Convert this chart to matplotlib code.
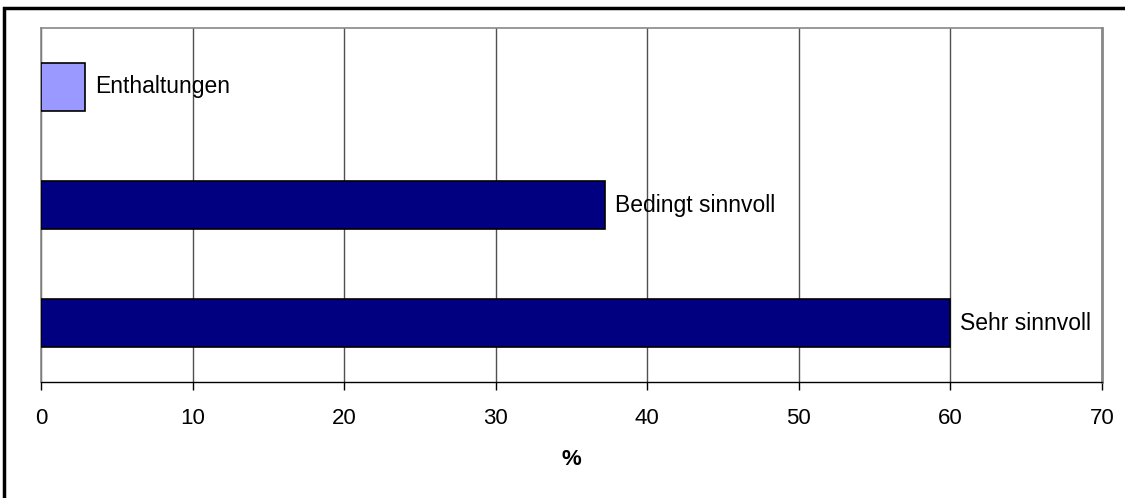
import matplotlib.pyplot as plt
from matplotlib.patches import Rectangle

plt.rcParams["font.family"] = ["Liberation Sans", "DejaVu Sans"]

# values in percent, bottom to top
categories = ["Sehr sinnvoll", "Bedingt sinnvoll", "Enthaltungen"]
values = [60.0, 37.2, 2.9]
bar_colors = ["#000080", "#000080", "#9999FF"]
x_ticks = [0, 10, 20, 30, 40, 50, 60, 70]

fig = plt.figure(figsize=(11.25, 4.98), dpi=100)
ax = fig.add_axes([0.0364, 0.2329, 0.9432, 0.7109])

y = list(range(len(categories)))
ax.barh(y, values, height=0.41, color=bar_colors, edgecolor="black",
        linewidth=1.2, zorder=3)

# labels next to bars
for yi, v, name in zip(y, values, categories):
    ax.annotate(name, xy=(v, yi), xytext=(7, 0), textcoords="offset points",
                va="center", ha="left", fontsize=16.5, zorder=4)

ax.set_xlim(0, 70)
ax.set_ylim(-0.5, 2.5)
ax.set_xticks(x_ticks)
ax.set_yticks([])
ax.xaxis.grid(True, color="#505050", linewidth=1, zorder=1)
ax.tick_params(axis="x", direction="out", length=6, width=1, pad=13,
               labelsize=16)
ax.set_xlabel("%", fontweight="bold", fontsize=16, labelpad=14)

for side in ["top", "right", "left"]:
    ax.spines[side].set_color("#888888")
ax.spines["right"].set_linewidth(2)
ax.spines["top"].set_linewidth(1.2)
ax.spines["left"].set_linewidth(1.2)
ax.spines["bottom"].set_color("black")
ax.spines["bottom"].set_linewidth(1)

# outer chart border (only top and left visible in the picture)
fig.patches.append(Rectangle((0.0036, -0.1), 1.2, 1.084,
                             transform=fig.transFigure, fill=False,
                             edgecolor="black", linewidth=2.5))

fig.savefig("out.png", dpi=100)
